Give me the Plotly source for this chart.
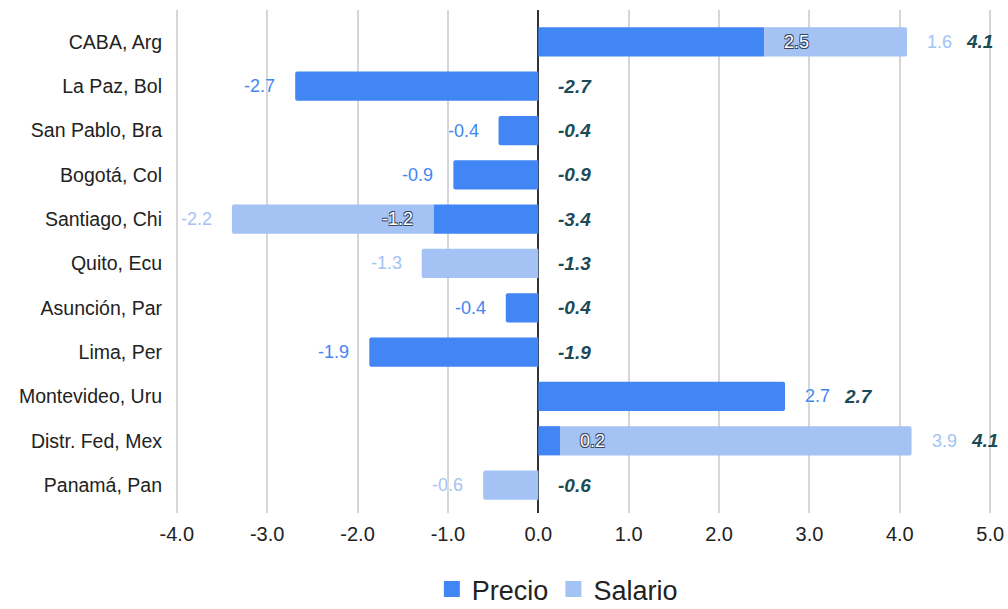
import plotly.graph_objects as go

cities = ["CABA, Arg", "La Paz, Bol", "San Pablo, Bra", "Bogotá, Col", "Santiago, Chi",
          "Quito, Ecu", "Asunción, Par", "Lima, Per", "Montevideo, Uru",
          "Distr. Fed, Mex", "Panamá, Pan"]
precio = [2.50, -2.69, -0.44, -0.94, -1.16, 0.0, -0.36, -1.87, 2.73, 0.24, 0.0]
salario = [1.58, 0.0, 0.0, 0.0, -2.23, -1.29, 0.0, 0.0, 0.0, 3.89, -0.61]
x_ticks = [-4, -3, -2, -1, 0, 1, 2, 3, 4, 5]

C_PRECIO = "#4285F4"
C_SALARIO = "#A4C2F4"
C_TOTAL = "#1B4B57"
FONT = "Arial, Liberation Sans, Helvetica, sans-serif"
OC = "#34425c"
OUTLINE = (f"-0.8px -0.8px 0 {OC}, 0.8px -0.8px 0 {OC}, "
           f"-0.8px 0.8px 0 {OC}, 0.8px 0.8px 0 {OC}")
HALO = "0 0 2px #fff, 0 0 2px #fff"

fig = go.Figure()
fig.add_trace(go.Bar(y=cities, x=precio, orientation="h", name="Precio",
                     marker=dict(color=C_PRECIO, line=dict(width=0)), showlegend=False))
fig.add_trace(go.Bar(y=cities, x=salario, orientation="h", name="Salario",
                     marker=dict(color=C_SALARIO, line=dict(width=0)), showlegend=False))
# legend entries
fig.add_trace(go.Scatter(x=[None], y=[None], mode="markers", name="Precio",
                         marker=dict(symbol="square", size=20, color=C_PRECIO)))
fig.add_trace(go.Scatter(x=[None], y=[None], mode="markers", name="Salario",
                         marker=dict(symbol="square", size=20, color=C_SALARIO)))

ann = []
GAP = 18
for i, c in enumerate(cities):
    p, s = precio[i], salario[i]
    if p != 0:
        overlapped = s != 0 and (s > 0) == (p > 0)
        ann.append(dict(x=p, y=c, text=f"{p:.1f}", showarrow=False,
                        xanchor="left" if p > 0 else "right", xshift=GAP if p > 0 else -GAP,
                        font=dict(family=FONT, size=18,
                                  color="#ffffff" if overlapped else C_PRECIO,
                                  shadow=OUTLINE if overlapped else HALO)))
    if s != 0:
        end = s + (p if (p > 0) == (s > 0) else 0)
        ann.append(dict(x=end, y=c, text=f"{s:.1f}", showarrow=False,
                        xanchor="left" if s > 0 else "right", xshift=GAP if s > 0 else -GAP,
                        font=dict(family=FONT, size=18, color=C_SALARIO, shadow=HALO)))
    tot = p + s
    pos_end = max(p, 0) + max(s, 0)
    if tot > 0:
        ann.append(dict(x=pos_end, y=c, text=f"<b><i>{tot:.1f}</i></b>", showarrow=False,
                        xanchor="left", xshift=57,
                        font=dict(family=FONT, size=19, color=C_TOTAL)))
    else:
        ann.append(dict(x=0, y=c, text=f"<b><i>{tot:.1f}</i></b>", showarrow=False,
                        xanchor="left", xshift=GAP,
                        font=dict(family=FONT, size=19, color=C_TOTAL)))

fig.update_layout(
    width=1008, height=609,
    margin=dict(l=175, r=16, t=10, b=96, autoexpand=False),
    barmode="relative", bargap=0.34,
    barcornerradius=2,
    plot_bgcolor="white", paper_bgcolor="white",
    font=dict(family=FONT, color="#222222"),
    annotations=ann,
    legend=dict(orientation="h", x=0.468, xanchor="center",
                yref="container", y=0.032, yanchor="middle",
                font=dict(family=FONT, size=27, color="#222222"), itemwidth=30,
                tracegroupgap=0),
    xaxis=dict(range=[-4.02, 5.02], tickvals=x_ticks, ticktext=[f"{v:.1f}" for v in x_ticks],
               showgrid=True, gridcolor="#D6D6D6", gridwidth=2,
               zeroline=True, zerolinecolor="#333333", zerolinewidth=2,
               showline=False, ticks="", ticklabelstandoff=7,
               tickfont=dict(family=FONT, size=20, color="#222222"), fixedrange=True),
    yaxis=dict(categoryorder="array", categoryarray=cities, range=[10.63, -0.72],
               showgrid=False, zeroline=False, showline=False, ticks="",
               ticklabelstandoff=12,
               tickfont=dict(family=FONT, size=19.5, color="#222222"), fixedrange=True),
)

fig.write_html("out.html")
